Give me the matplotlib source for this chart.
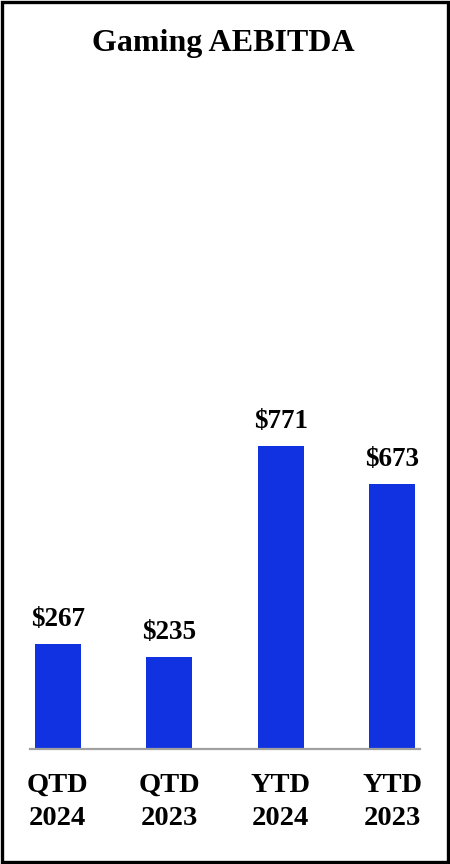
import matplotlib.pyplot as plt
from matplotlib.patches import Rectangle

# ===================== dados =====================
categorias = ['QTD\n2024', 'QTD\n2023', 'YTD\n2024', 'YTD\n2023']
valores = [267, 235, 771, 673]
rotulos = ['$267', '$235', '$771', '$673']

plt.rcParams['font.family'] = ['Liberation Serif', 'DejaVu Serif']

W, H = 450, 864
fig = plt.figure(figsize=(W / 100, H / 100), dpi=100)

# eixo: base em y=749px, largura 30..420px
ax = fig.add_axes([30 / W, (H - 749) / H, 390 / W, (749 - 100) / H])
x = range(len(categorias))
ax.bar(x, valores, width=0.41, color='#1132E0')
ax.set_xlim(-0.25, 3.25)
ax.set_ylim(0, 1650)

for xi, v, r in zip(x, valores, rotulos):
    ax.annotate(r, (xi, v), xytext=(0, 12), textcoords='offset pixels',
                ha='center', va='bottom', fontsize=19.5, fontweight='bold')

ax.set_xticks(list(x))
ax.set_xticklabels(categorias, fontsize=20.5, fontweight='bold', linespacing=1.45)
ax.tick_params(axis='x', length=0, pad=17)
ax.set_yticks([])
for s in ['top', 'right', 'left']:
    ax.spines[s].set_visible(False)
ax.spines['bottom'].set_color('#A0A0A0')
ax.spines['bottom'].set_linewidth(1.6)

fig.text(223 / W, 1 - 44 / H, 'Gaming AEBITDA', ha='center', va='center',
         fontsize=23, fontweight='bold')

# moldura
fig.patches.append(Rectangle((0.0035, 0.002), 0.993, 0.996, transform=fig.transFigure,
                             fill=False, edgecolor='black', linewidth=2.4))

fig.savefig('out.png', dpi=100)
